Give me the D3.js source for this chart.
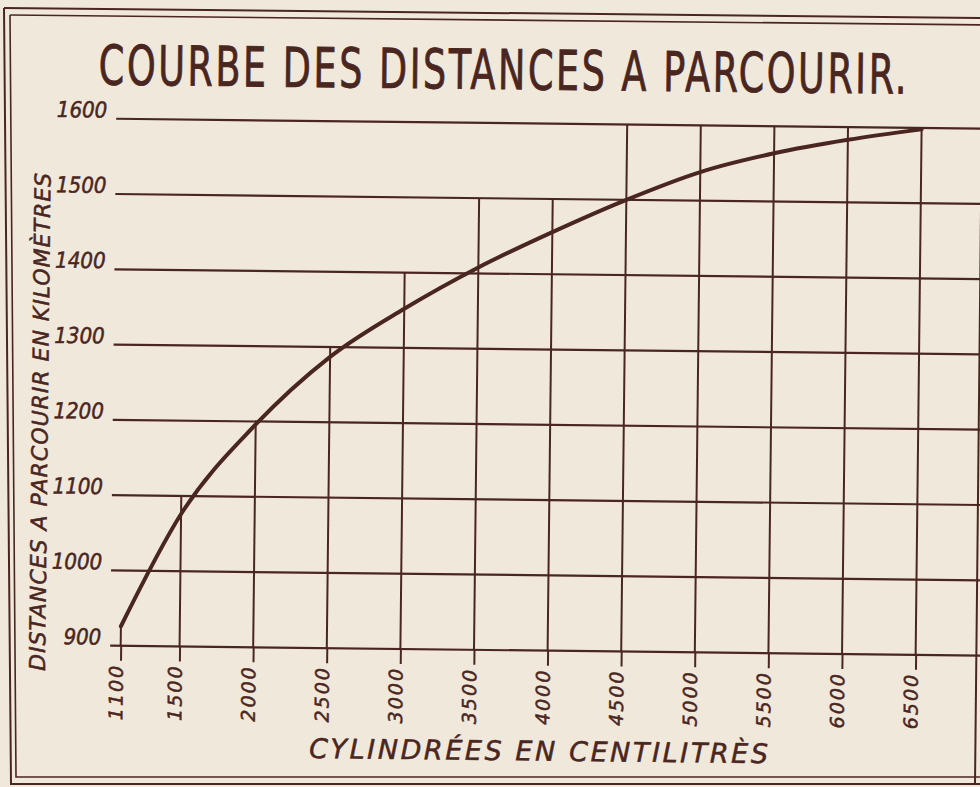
<!DOCTYPE html>
<html><head><meta charset="utf-8">
<script src="https://cdn.jsdelivr.net/npm/d3@7/dist/d3.min.js"></script>
<style>html,body{margin:0;padding:0;background:#f1e8dc;} svg{display:block}</style>
</head><body><svg id="c" width="980" height="787"></svg>
<script>
// ---- data ----
const cylindrees = [1100, 1500, 2000, 2500, 3000, 3500, 4000, 4500, 5000, 5500, 6000, 6500];
const distances  = [926, 1076, 1196, 1287, 1352, 1408, 1456, 1500, 1538, 1564, 1583, 1598];
const gridTops   = [926, 1100, 1200, 1300, 1400, 1500, 1500, 1600, 1600, 1600, 1600, 1600];
const yTicks     = [900, 1000, 1100, 1200, 1300, 1400, 1500, 1600];
const xTickLabels = ["1100","1500","2000","2500","3000","3500","4000","4500","5000","5500","6000","6500"];
const titleText = "COURBE DES DISTANCES A PARCOURIR.";
const xTitleText = "CYLINDRÉES EN CENTILITRÈS";
const yTitleText = "DISTANCES A PARCOURIR EN KILOMÈTRES";

const ink = "#4a2621";
const svg = d3.select("#c");
svg.append("rect").attr("width",980).attr("height",787).attr("fill","#f1e8dc");

// frame (double rule)
const frame = svg.append("g").attr("fill","none").attr("stroke",ink).attr("stroke-width",2);
frame.append("path").attr("d","M4,8 L990,18");
frame.append("path").attr("d","M10,15 L990,25").attr("stroke-width",1.6);
frame.append("path").attr("d","M4,8 L11,784 L990,784");
frame.append("path").attr("d","M10,15 L16,777 L990,777").attr("stroke-width",1.6);
frame.append("path").attr("d","M983,18 L975,784");

const g = svg.append("g").attr("transform","rotate(0.65,490,400)");

const x = d3.scaleLinear().domain([1100, 6500]).range([123.5, 918.5]);
const y = d3.scaleLinear().domain([900, 1600]).range([650, 123]);

// fit a text to a given length with letter-spacing
function fitText(sel, target) {
  const n = sel.text().length;
  const w = sel.node().getComputedTextLength();
  sel.style("letter-spacing", ((target - w) / (n - 1)) + "px");
}

// horizontal grid
g.append("g").selectAll("line").data(yTicks).join("line")
  .attr("x1",113).attr("x2",995)
  .attr("y1",d=>y(d)).attr("y2",d=>y(d))
  .attr("stroke",ink).attr("stroke-width",2.2);

// vertical grid (up to the first rule above the curve)
g.append("g").selectAll("line").data(cylindrees).join("line")
  .attr("x1",d=>x(d)).attr("x2",d=>x(d))
  .attr("y1",y(900)).attr("y2",(d,i)=>y(gridTops[i]))
  .attr("stroke",ink).attr("stroke-width",2);

// x axis: ticks below + rotated labels
const xAxis = d3.axisBottom(x).tickValues(cylindrees).tickSize(15)
  .tickFormat((d,i)=>xTickLabels[i]);
const xa = g.append("g").attr("transform",`translate(0,${y(900)})`).call(xAxis);
xa.select(".domain").remove();
xa.selectAll(".tick line").attr("stroke",ink).attr("stroke-width",2);
xa.selectAll(".tick text")
  .attr("transform","rotate(-90)")
  .attr("x",-18).attr("y",2).attr("dy",0)
  .attr("text-anchor","end")
  .attr("fill",ink)
  .style("font-family","'DejaVu Sans'")
  .style("font-style","italic")
  .style("font-size","19px")
  .style("stroke",ink).style("stroke-width","0.5px")
  .style("letter-spacing","2px");

// y axis labels
const yAxis = d3.axisLeft(y).tickValues(yTicks).tickSize(0).tickPadding(0).tickFormat(d3.format("d"));
const ya = g.append("g").attr("transform","translate(104,0)").call(yAxis);
ya.select(".domain").remove();
ya.selectAll(".tick text")
  .attr("dy","-1.5")
  .attr("fill",ink)
  .style("stroke",ink).style("stroke-width","0.5px")
  .style("font-family","'DejaVu Sans Condensed'")
  .style("font-style","italic")
  .style("font-size","22px");

// curve
const line = d3.line().x((d,i)=>x(cylindrees[i])).y(d=>y(d)).curve(d3.curveMonotoneX);
g.append("path").datum(distances).attr("d",line)
  .attr("fill","none").attr("stroke",ink).attr("stroke-width",4)
  .attr("stroke-linecap","round");

// title (narrow, tall lettering)
const sx = 0.74;
const t = g.append("g").attr("transform",`translate(95,89) scale(${sx},1)`)
  .append("text").attr("x",0).attr("y",0)
  .attr("fill",ink)
  .style("stroke",ink).style("stroke-width","0.8px")
  .style("font-family","'DejaVu Sans Condensed'")
  .style("font-size","55px")
  .text(titleText);
fitText(t, 808 / sx);

// x title
const xt = g.append("text").attr("x",313).attr("y",760)
  .attr("fill",ink)
  .style("stroke",ink).style("stroke-width","0.5px")
  .style("font-family","'DejaVu Sans'")
  .style("font-style","italic")
  .style("font-size","27px")
  .text(xTitleText);
fitText(xt, 459);

// y title
const yt = g.append("text").attr("transform","translate(48,676) rotate(-90)")
  .attr("fill",ink)
  .style("stroke",ink).style("stroke-width","0.5px")
  .style("font-family","'DejaVu Sans'")
  .style("font-style","italic")
  .style("font-size","22px")
  .text(yTitleText);
fitText(yt, 498);
</script></body></html>
